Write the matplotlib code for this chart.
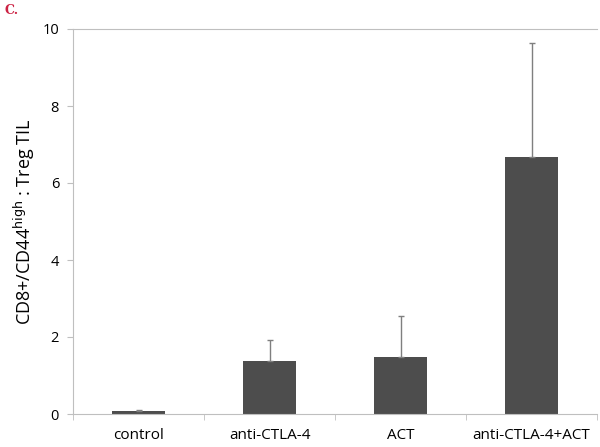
import numpy as np
import matplotlib.pyplot as plt

groups = ['control', 'anti-CTLA-4', 'ACT', 'anti-CTLA-4+ACT']
ratio = [0.08, 1.38, 1.48, 6.67]
err = [0.02, 0.54, 1.07, 2.96]

plt.rcParams['font.family'] = ['Open Sans', 'DejaVu Sans']

fig = plt.figure(figsize=(6, 4.47), dpi=100)
ax = fig.add_axes([73/600, 33/447, 524/600, 385/447])

x = np.arange(len(groups))
ax.bar(x, ratio, width=0.4, color='#4d4d4d', zorder=2)
ax.errorbar(x, ratio, yerr=[np.zeros(len(err)), err], fmt='none',
            ecolor='#7f7f7f', elinewidth=1, capsize=2, capthick=1, zorder=3)

ax.set_xlim(-0.5, len(groups) - 0.5)
ax.set_ylim(0, 10)
ax.set_yticks([0, 2, 4, 6, 8, 10])
ax.set_xticks(x)
ax.set_xticklabels(groups, fontsize=11)
ax.set_xticks(np.arange(len(groups) + 1) - 0.5, minor=True)
ax.tick_params(axis='x', which='major', length=0, pad=10)
ax.tick_params(axis='x', which='minor', length=4, color='#bfbfbf', direction='out')
ax.tick_params(axis='y', length=4, color='#bfbfbf', labelsize=10.5, pad=6)

for s in ['left', 'bottom', 'top']:
    ax.spines[s].set_color('#bfbfbf')
ax.spines['right'].set_visible(False)

ax.set_ylabel('CD8+/CD44$^{\\mathrm{high}}$ : Treg TIL', fontsize=13, labelpad=4)
fig.text(0.008, 0.968, 'C.', color='#cc2244', fontsize=9, family='DejaVu Serif',
         fontweight='bold')

fig.savefig('out.png', dpi=100)
